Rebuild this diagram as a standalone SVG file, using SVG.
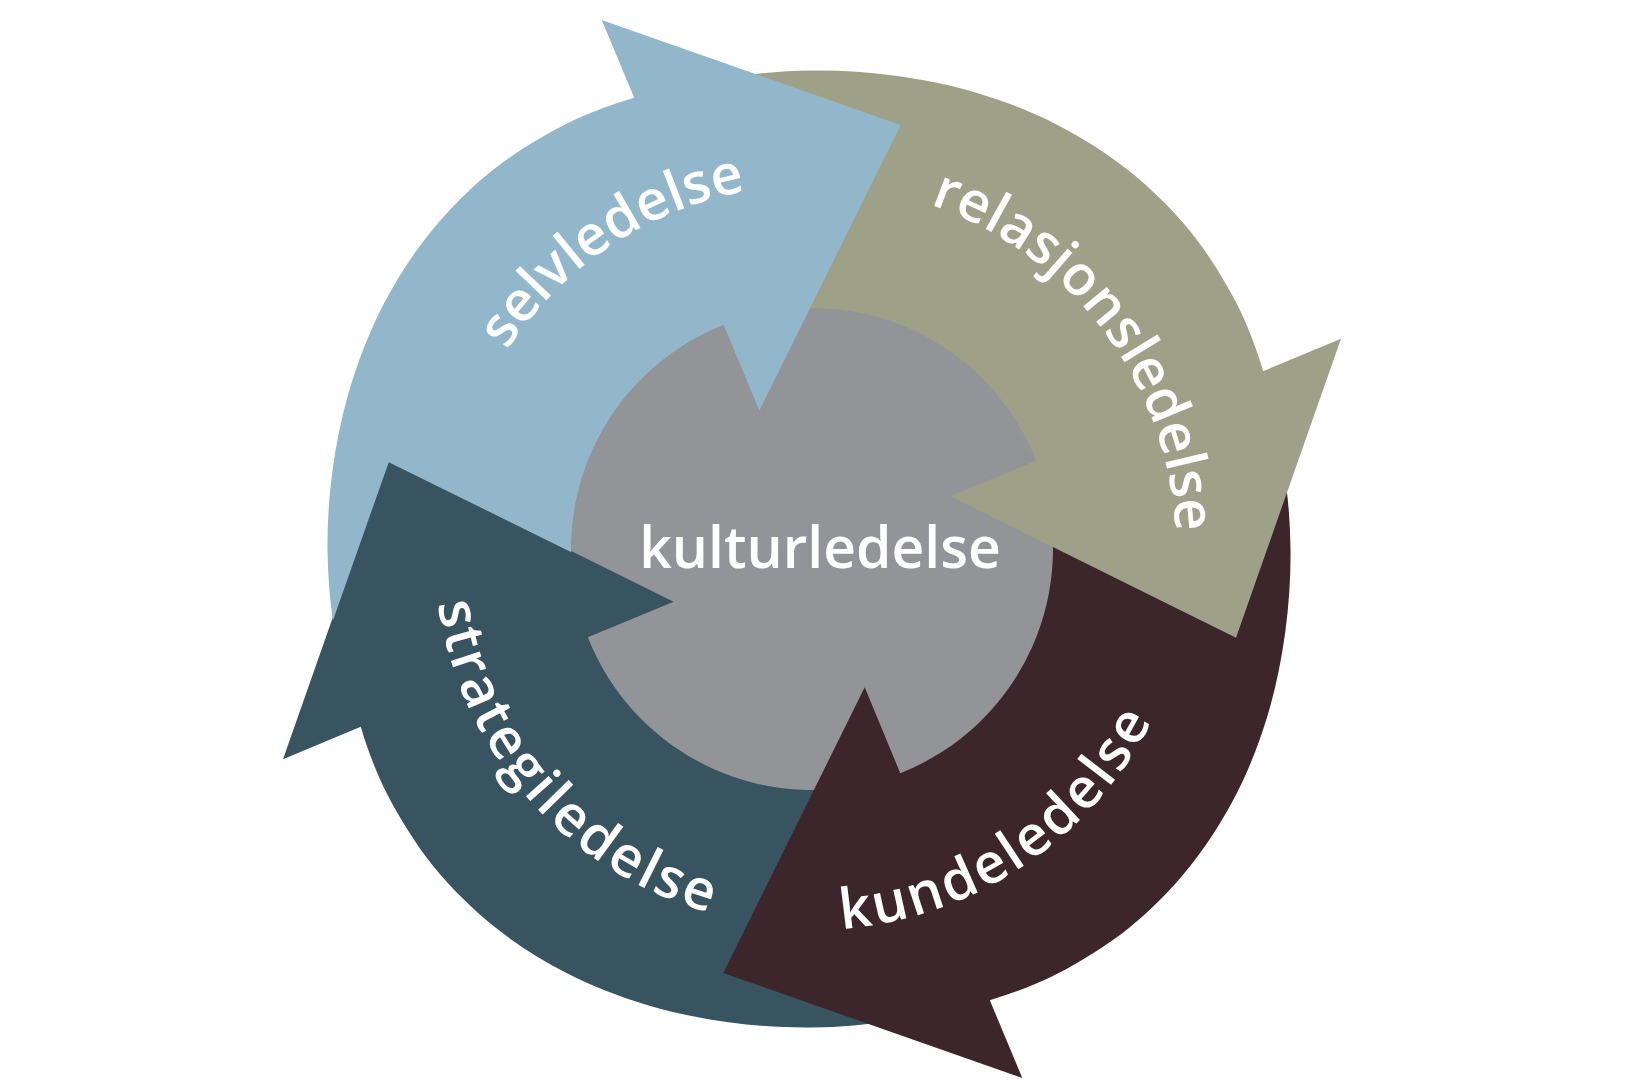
<svg xmlns="http://www.w3.org/2000/svg" width="1625" height="1090" viewBox="0 0 1625 1090">
<style>
  .lbl { font-family: "Open Sans", "Liberation Sans", sans-serif; font-size: 56px; font-weight: 600; fill: #ffffff; }
  .top { letter-spacing: 0px; }
  .bot { letter-spacing: 2.7px; }
  .center { font-family: "Open Sans", "Liberation Sans", sans-serif; font-size: 57px; font-weight: 600; fill: #ffffff; }
</style>
<defs>
  <path id="arrow-a" d="M 356.25,714.88 C 346.73,688.48 339.66,660.78 334.87,633.13 C 330.08,605.48 327.75,577.09 327.5,549 C 327.25,520.91 329.29,492.51 333.38,464.61 C 337.47,436.71 343.48,408.64 352.02,381.58 C 360.56,354.52 371.28,327.48 384.62,302.25 C 397.96,277.02 413.89,252.32 432.04,230.18 C 450.19,208.04 471.09,187.16 493.5,169.43 C 515.91,151.7 543.05,135.72 566.5,123.78 C 586.43,113.63 612.92,103.92 634.2,97.8 L 601.7,20 L 900.7,125 L 759.3,410.7 L 723.7,324.8 A 241 241 0 0 0 585.53,631.43 Z"/>
  <path id="arrow-b" d="M 361.89,712.83 C 352.49,686.76 345.5,659.4 340.77,632.09 C 336.04,604.78 333.83,576.76 333.5,549 C 333.17,521.24 335.01,493.21 338.8,465.56 C 342.59,437.91 348.11,410.05 356.25,383.12 C 364.39,356.19 374.7,329.22 387.65,304 C 400.6,278.78 416.16,254.02 433.96,231.78 C 451.76,209.54 472.33,188.51 494.46,170.58 C 516.59,152.65 543.46,136.34 566.75,124.21 C 586.55,113.9 612.96,103.98 634.2,97.8 L 601.7,20 L 900.7,125 L 759.3,410.7 L 723.7,324.8 A 241 241 0 0 0 585.53,631.43 Z"/>
  <clipPath id="cut-under-strategi">
    <path clip-rule="evenodd" d="M 0,0 H 1625 V 1090 H 0 Z M 284.5,757.9 L 388.76,462.15 L 671.7,601.75 Z"/>
  </clipPath>
  <path id="tp-selv" d="M 448.8,572.5 A 364 364 0 0 1 973.3,222.7"/>
  <path id="tp-relasjon" d="M 768.3,187.6 A 364 364 0 0 1 1146.8,691.8"/>
  <path id="tp-kunde" d="M 645,891.4 A 381 381 0 0 0 1192.1,522.4"/>
  <path id="tp-strategi" d="M 453.6,428.7 A 378 378 0 0 0 887,919.5"/>
</defs>
<rect width="1625" height="1090" fill="#ffffff"/>
<g id="kulturledelse">
  <circle cx="812" cy="549" r="243" fill="#939498"/>
  <text class="center" x="820" y="568" text-anchor="middle">kulturledelse</text>
</g>
<g id="strategiledelse">
  <use href="#arrow-b" transform="rotate(270 812 549)" fill="#385461"/>
  <text class="lbl bot"><textPath href="#tp-strategi" startOffset="50%" text-anchor="middle">strategiledelse</textPath></text>
</g>
<g id="kundeledelse">
  <use href="#arrow-b" transform="rotate(180 812 549)" fill="#3C262C"/>
  <text class="lbl bot"><textPath href="#tp-kunde" startOffset="50%" text-anchor="middle">kundeledelse</textPath></text>
</g>
<g id="relasjonsledelse">
  <use href="#arrow-b" transform="rotate(90 812 549)" fill="#9EA087"/>
  <text class="lbl top"><textPath href="#tp-relasjon" startOffset="50%" text-anchor="middle">relasjonsledelse</textPath></text>
</g>
<g id="selvledelse">
  <use href="#arrow-a" fill="#92B7CA" clip-path="url(#cut-under-strategi)"/>
  <text class="lbl top"><textPath href="#tp-selv" startOffset="50%" text-anchor="middle">selvledelse</textPath></text>
</g>
</svg>
